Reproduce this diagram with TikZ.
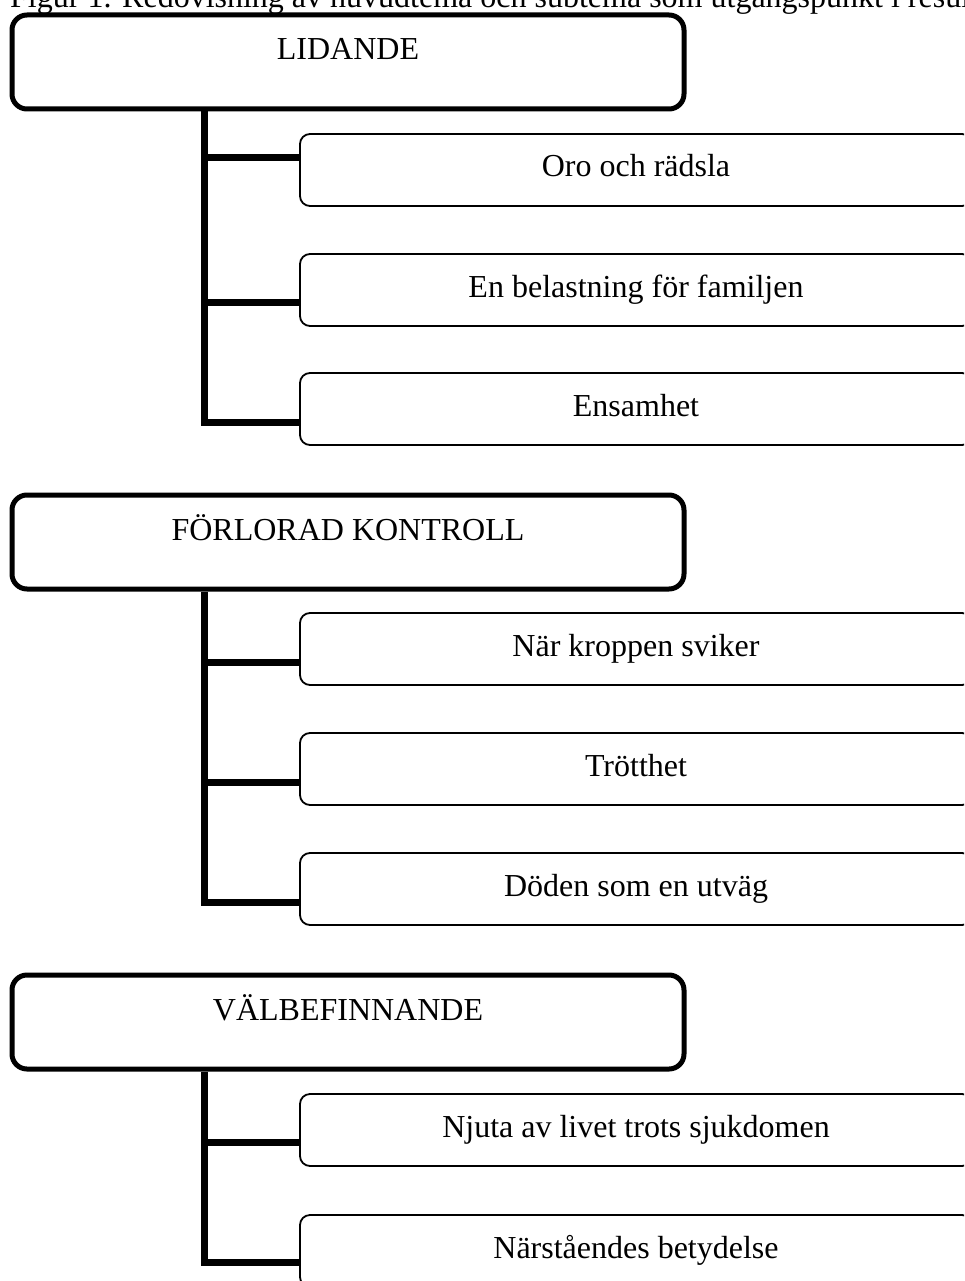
\documentclass[tikz,border=0pt]{standalone}
\usepackage{fontspec}
\setmainfont{Liberation Serif}
\tikzset{
  txt/.style={font=\fontsize{32}{38}\selectfont},
  mainbox/.style={draw, line width=5pt, rounded corners=15pt, minimum width=672pt,
    minimum height=94pt, inner sep=0pt, text height=8pt, text depth=12pt, txt},
  subbox/.style={draw, line width=1.8pt, rounded corners=10pt, minimum width=672pt,
    minimum height=72pt, inner sep=0pt, text height=21pt, text depth=7pt, txt},
  link/.style={line width=7pt, line join=miter, line cap=butt},
}
\begin{document}
\begin{tikzpicture}[x=1pt,y=-1pt]
\useasboundingbox (0,0) rectangle (964,1281);
\clip (0,0) rectangle (964,1281);
\fill[white] (0,0) rectangle (964,1281);

\node[txt, anchor=base west, inner sep=0pt] (cap) at (10,8)
  {Figur 1. Redovisning av huvudtema och subtema som utgångspunkt i resultatet};

% Section 1
\node[mainbox] (m1) at (348,62) {LIDANDE};
\node[subbox] (s1) at (636,170) {Oro och rädsla};
\node[subbox] (s2) at (636,290) {En belastning för familjen};
\node[subbox] (s3) at (636,409) {Ensamhet};
\coordinate (a1) at (204,158);
\coordinate (a2) at (204,302);
\coordinate (a3) at (204,422);
\draw[link] (m1.south -| a1) -- (a3) -- (a3 -| s3.west);
\draw[link] (a1) -- (a1 -| s1.west);
\draw[link] (a2) -- (a2 -| s2.west);

% Section 2
\node[mainbox] (m2) at (348,542) {FÖRLORAD KONTROLL};
\node[subbox] (s4) at (636,649) {När kroppen sviker};
\node[subbox] (s5) at (636,769) {Trötthet};
\node[subbox] (s6) at (636,889) {Döden som en utväg};
\coordinate (b1) at (204,662);
\coordinate (b2) at (204,782);
\coordinate (b3) at (204,902);
\draw[link] (m2.south -| b1) -- (b3) -- (b3 -| s6.west);
\draw[link] (b1) -- (b1 -| s4.west);
\draw[link] (b2) -- (b2 -| s5.west);

% Section 3
\node[mainbox] (m3) at (348,1022) {VÄLBEFINNANDE};
\node[subbox] (s7) at (636,1130) {Njuta av livet trots sjukdomen};
\node[subbox] (s8) at (636,1251) {Närståendes betydelse};
\coordinate (c1) at (204,1142);
\coordinate (c2) at (204,1262);
\draw[link] (m3.south -| c1) -- (c2) -- (c2 -| s8.west);
\draw[link] (c1) -- (c1 -| s7.west);
\end{tikzpicture}
\end{document}
